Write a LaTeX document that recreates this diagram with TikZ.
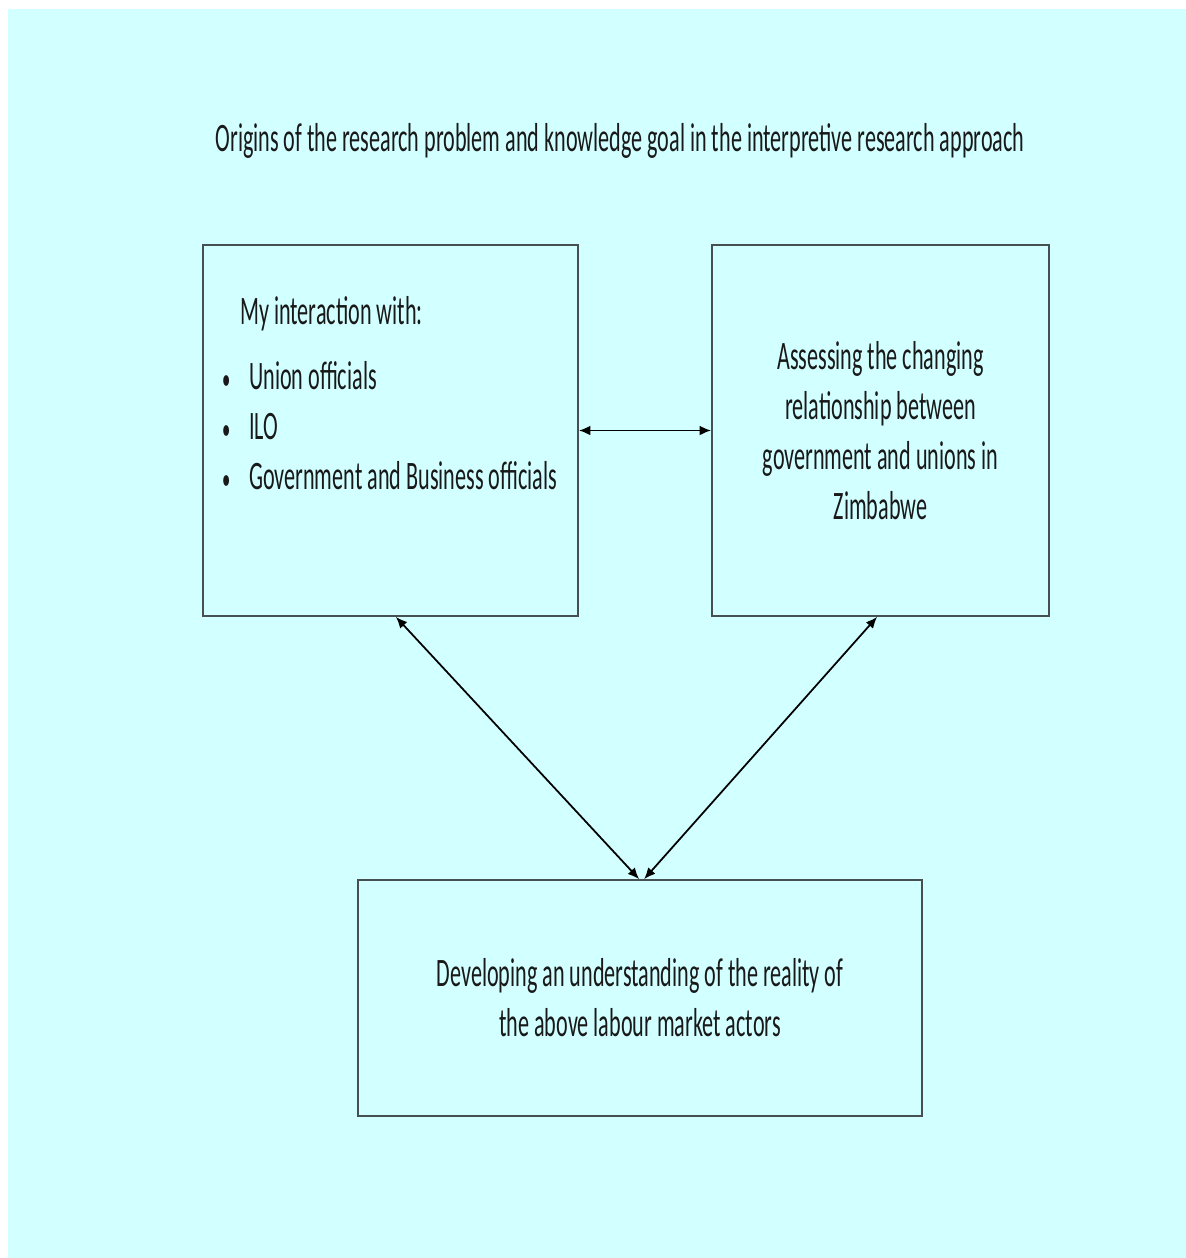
\documentclass[tikz,border=0pt]{standalone}
\usepackage{fontspec}
\setmainfont{Carlito}[FakeStretch=0.548]
\usepackage{tikz}
\usetikzlibrary{arrows.meta, positioning}
\definecolor{paleCyan}{RGB}{210, 255, 255}
\definecolor{boxGrey}{RGB}{70, 80, 80}

\begin{document}
\begin{tikzpicture}[
		x=0.02cm, y=-0.02cm,
		box/.style={draw=boxGrey, line width=1pt, inner sep=0pt, align=center},
		txt/.style={font=\fontsize{23}{28.45}\selectfont, text=black!90},
		arrow/.style={{Latex[length=6.5pt,width=5.5pt]}-{Latex[length=6.5pt,width=5.5pt]}, line width=1pt}
	]

	% Background
	\useasboundingbox (0,0) rectangle (1186,1258);
	\fill[white] (0,0) rectangle (1186,1258);
	\fill[paleCyan] (8,9) rectangle (1186,1258);

	% Title
	\node[txt] (title) at (620,141) {Origins of the research problem and knowledge goal in the interpretive research approach};

	% Boxes
	\node[box, minimum width=7.5cm, minimum height=7.42cm] (interact) at (390.5,430.5) {};
	\node[box, txt, minimum width=6.74cm, minimum height=7.42cm] (assess) at (880.5,430.5) {Assessing the changing\\relationship between\\government and unions in\\Zimbabwe};
	\node[box, txt, minimum width=11.28cm, minimum height=4.72cm] (develop) at (640,998) {Developing an understanding of the reality of\\the above labour market actors};

	% Text of the left box
	\node[txt, align=left, anchor=north west] (interacttext) at (212,290) {\hspace*{0.44cm}My interaction with:\\[0.3cm]
		\makebox[0.62cm][l]{\hspace*{0.08cm}\scalebox{0.75}{\textbullet}}Union officials\\
		\makebox[0.62cm][l]{\hspace*{0.08cm}\scalebox{0.75}{\textbullet}}ILO\\
		\makebox[0.62cm][l]{\hspace*{0.08cm}\scalebox{0.75}{\textbullet}}Government and Business officials};

	% Arrows
	\draw[arrow] (interact.east) -- (assess.west);
	\draw[arrow] ([xshift=-3.66cm]interact.south east) -- ([xshift=5.64cm]develop.north west);
	\draw[arrow] ([xshift=3.32cm]assess.south west) -- ([xshift=5.74cm]develop.north west);
\end{tikzpicture}
\end{document}
